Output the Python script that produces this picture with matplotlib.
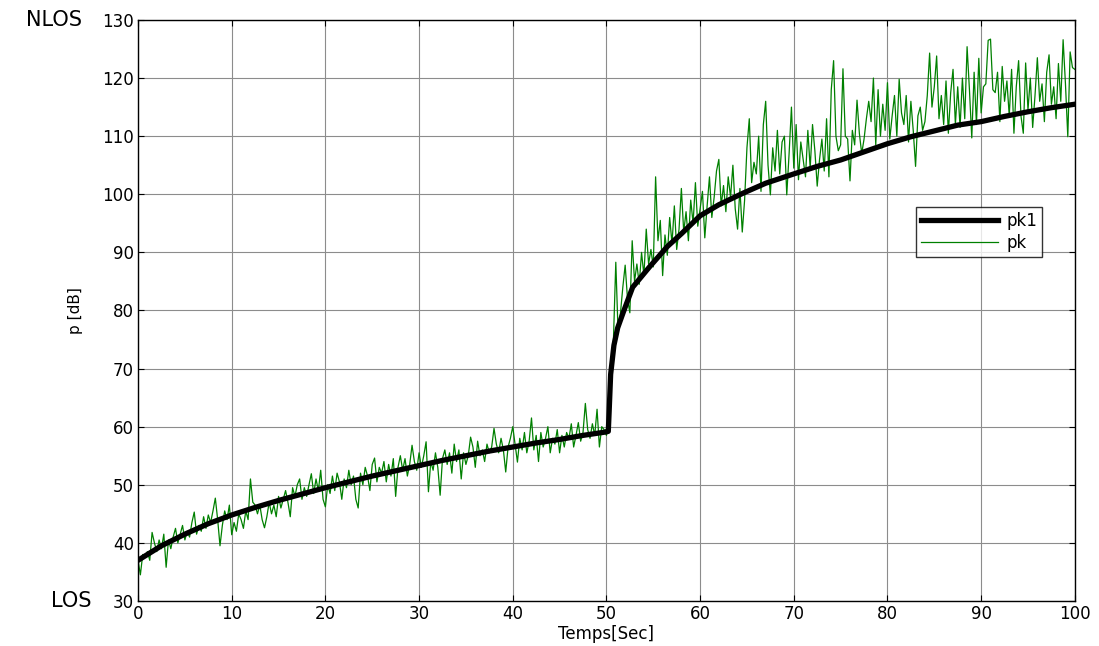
import numpy as np
import matplotlib
matplotlib.use("Agg")
import matplotlib.pyplot as plt

# pk1: smooth estimate (black), key points
pk1_t = [0, 2.5, 5, 7.5, 10, 12.5, 15, 17.5, 20, 22.5, 25, 27.5, 30, 32.5, 35,
         37.5, 40, 42.5, 45, 47.5, 50, 50.2, 50.3, 50.45, 50.8, 51.2, 51.8,
         52.8, 54.6, 56.5, 58, 60, 62, 64.6, 67, 70, 72.5, 75, 77.5, 80, 82.5,
         85, 87.5, 90, 92.5, 95, 97.5, 100]
pk1_v = [37, 39.5, 41.5, 43.3, 44.8, 46.1, 47.3, 48.4, 49.5, 50.5, 51.5, 52.4,
         53.3, 54.2, 55, 55.8, 56.5, 57.2, 57.8, 58.5, 59.1, 59.2, 63, 69, 74,
         77, 79.7, 84, 87.5, 91, 93.2, 96.3, 98.2, 100.2, 101.9, 103.5, 104.8,
         105.9, 107.3, 108.7, 109.9, 110.9, 111.9, 112.5, 113.4, 114.2, 114.9,
         115.5]

# pk: noisy measurement (green), one value every 0.25 s
pk_dt = 0.25
pk_v = [
    37, 34.5, 38, 37.5, 38.5, 37, 41.8, 40, 38.5, 40.5, 39, 41.5,
    35.8, 40.5, 39, 41, 42.5, 40, 41.5, 43, 40.5, 42, 41, 43.5,
    45.3, 41.5, 43, 42, 44.5, 42.5, 44.8, 43.5, 45.5, 47.7, 44, 39.5,
    43, 45.5, 44, 46.5,
    41.4, 43.5, 42, 45, 44, 42.5, 45.5, 44, 51, 47, 46.5, 45,
    46.5, 44, 42.6, 44.5, 47, 45, 46.5, 44.5, 48, 46, 47.5, 49,
    47, 44.5, 49.5, 48, 50, 51, 47.5, 49.5, 48, 50, 51.9, 48.5,
    51, 49, 52.5, 47.5,
    46.2, 50, 48.5, 51.5, 49, 52, 50.5, 47.5, 51, 49.5, 52.5, 50,
    51.5, 47.5, 46, 52, 50, 53, 51.5, 49, 53.5, 54.6, 50.5, 53,
    52, 54, 50.5, 53.5, 51.5, 54.5, 48, 53, 55, 52.5, 54.5, 51.5,
    53.5, 56.8, 54, 52.5,
    55.5, 53, 55, 57.4, 48.8, 54, 52.5, 55.5, 53, 48.2, 54.5, 56,
    53.5, 55.5, 52, 57, 54, 56, 51, 55.5, 53.5, 55, 58.2, 56.5,
    53, 57.5, 55, 56, 54, 57, 55.5, 56.5, 59.7, 57, 55.5, 58,
    56, 52.2, 56.5, 58,
    60, 57, 53.9, 58, 56, 59, 55.5, 57.5, 61.5, 56, 58.5, 54,
    59, 56.5, 58, 60, 55.5, 58, 57, 59.5, 55.5, 58.5, 56.5, 59,
    58, 60.5, 56.5, 58.5, 60.7, 57.5, 59, 64, 59.5, 58, 60.5, 58.5,
    63, 56.5, 60, 59.5,
    58.5, 62, 70, 75, 88.3, 76, 79.6, 84, 87.8, 82, 79.6, 92,
    85, 88, 84.5, 90, 86, 94, 88, 90.5, 87.5, 103, 92, 95.5,
    86, 93, 89.5, 96, 91.5, 98, 90.5, 94, 101, 93.5, 97, 92,
    99, 95, 102, 94.5,
    97.5, 100.5, 92.5, 98, 103, 96, 99.5, 104, 106, 98, 101.5, 97,
    103, 99.5, 105, 97.5, 94, 101, 93.5, 99, 108, 113, 102, 105.5,
    103.5, 110, 100.5, 112, 116, 105, 99.9, 108, 104, 111, 103.5, 109,
    110, 99.9, 107, 115,
    104.5, 112, 102.5, 109, 106, 103, 111, 104.5, 112, 107.5, 101.4, 106,
    109.5, 104, 113, 103, 118, 123, 110, 107.5, 108.5, 121.6, 110, 109.5,
    102.3, 111, 108.5, 116.2, 110.5, 107, 109.5, 113, 116, 112.5, 120, 108.5,
    118, 110, 115.5, 111,
    119.2, 109.5, 113.5, 117, 110, 119.8, 114, 112, 117, 109, 116, 111,
    104.8, 113.5, 115, 111, 112.5, 117, 124.3, 115, 118.5, 123.8, 113, 117,
    112, 119.5, 110.5, 117.5, 121.5, 112, 118.5, 111.5, 120, 113, 125.4, 118,
    109.7, 121, 112, 123.4,
    114, 118.5, 119, 126.5, 126.7, 118, 117.5, 121, 112.5, 122, 116, 119.5,
    113.5, 121.5, 110.5, 118.5, 123, 113.5, 110.5, 122.6, 114.5, 120, 111.5, 117,
    123.5, 116, 119, 112.5, 121, 124, 115.5, 118.5, 113, 122.5, 116, 126.6,
    119, 109.9, 124.5, 121.8,
    121.5,
]
pk_t = np.arange(len(pk_v)) * pk_dt

x_ticks = list(range(0, 101, 10))
y_ticks = list(range(30, 131, 10))

plt.rcParams["font.family"] = ["DejaVu Sans"]

fig = plt.figure(figsize=(10.99, 6.46), dpi=100)
ax = fig.add_axes([0.1256, 0.0697, 0.8524, 0.8994])

ax.plot(pk1_t, pk1_v, color="black", linewidth=3.8, label="pk1", zorder=3,
        solid_joinstyle="round")
ax.plot(pk_t, pk_v, color="#008000", linewidth=0.9, label="pk", zorder=2)

ax.set_xlim(0, 100)
ax.set_ylim(30, 130)
ax.set_xticks(x_ticks)
ax.set_yticks(y_ticks)
ax.tick_params(direction="in", top=True, right=True, labelsize=12, length=4,
               pad=3)
ax.grid(True, color="#8c8c8c", linewidth=0.8)
for s in ax.spines.values():
    s.set_color("black")
    s.set_linewidth(1.0)

ax.set_xlabel("Temps[Sec]", fontsize=12, labelpad=1)
ax.set_ylabel("p [dB]", fontsize=11, labelpad=14)

leg = ax.legend(loc="upper left", bbox_to_anchor=(0.822, 0.692), fontsize=12,
                frameon=True, fancybox=False, edgecolor="black",
                handlelength=4.6, borderpad=0.3, labelspacing=0.2,
                handletextpad=0.5)
leg.get_frame().set_linewidth(1.0)

# LOS / NLOS markers beside the y axis
fig.text(0.0746, 0.969, "NLOS", fontsize=15, ha="right", va="center")
fig.text(0.0837, 0.0697, "LOS", fontsize=15, ha="right", va="center")

fig.savefig("out.png", dpi=100)
